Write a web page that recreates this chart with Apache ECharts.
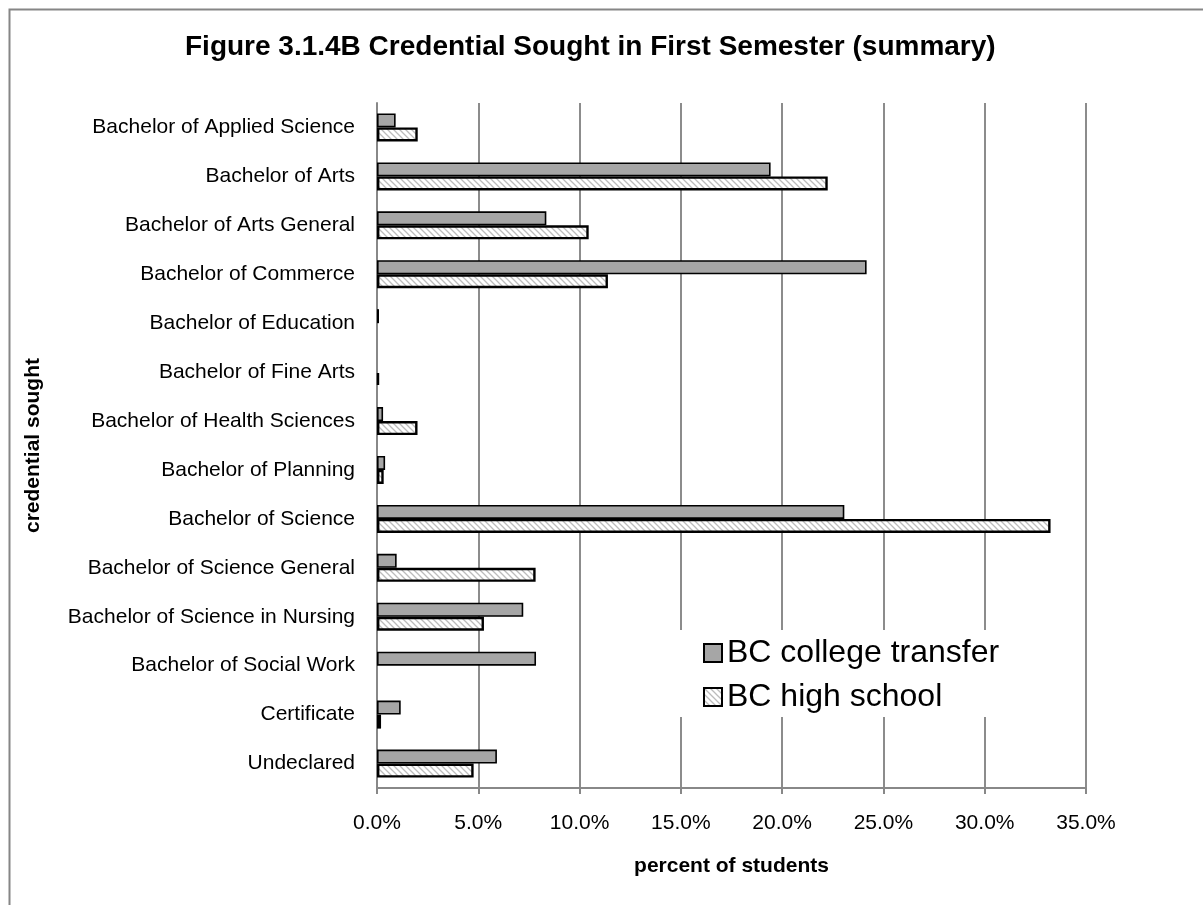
<!DOCTYPE html>
<html>
<head>
<meta charset="utf-8">
<script src="https://cdn.jsdelivr.net/npm/echarts@6/dist/echarts.min.js"></script>
<style>
html,body{margin:0;padding:0;background:#fff;}
#chart{width:1203px;height:905px;}
</style>
</head>
<body>
<div id="chart"></div>
<script>
const categories = [
  'Bachelor of Applied Science',
  'Bachelor of Arts',
  'Bachelor of Arts General',
  'Bachelor of Commerce',
  'Bachelor of Education',
  'Bachelor of Fine Arts',
  'Bachelor of Health Sciences',
  'Bachelor of Planning',
  'Bachelor of Science',
  'Bachelor of Science General',
  'Bachelor of Science in Nursing',
  'Bachelor of Social Work',
  'Certificate',
  'Undeclared'
];
const collegeTransfer = [0.92, 19.43, 8.36, 24.17, 0.1, null, 0.3, 0.4, 23.07, 0.97, 7.22, 7.85, 1.17, 5.92];
const highSchool = [2.01, 22.25, 10.45, 11.40, null, 0.1, 2.0, 0.33, 33.25, 7.83, 5.28, null, 0.2, 4.77];
const xTicks = [0, 5, 10, 15, 20, 25, 30, 35];
const seriesNames = ['BC college transfer', 'BC high school'];

function hatch() {
  const n = 6;
  const c = document.createElement('canvas');
  c.width = n; c.height = n;
  const g = c.getContext('2d');
  g.fillStyle = '#ffffff';
  g.fillRect(0, 0, n, n);
  g.strokeStyle = '#bcbcbc';
  g.lineWidth = 1.3;
  g.beginPath();
  g.moveTo(-2, -2); g.lineTo(n + 2, n + 2);
  g.moveTo(-2, n - 2); g.lineTo(2, n + 2);
  g.moveTo(n - 2, -2); g.lineTo(n + 2, 2);
  g.stroke();
  return c;
}

const FONT = "'Liberation Sans', Arial, sans-serif";
const chart = echarts.init(document.getElementById('chart'), null, {renderer: 'canvas'});
chart.setOption({
  backgroundColor: '#ffffff',
  animation: false,
  textStyle: {fontFamily: FONT},
  graphic: [{
    type: 'rect', left: 7, top: 7, z: -1,
    shape: {x: 0, y: 0, width: 1300, height: 1000},
    style: {fill: 'none', stroke: '#868686', lineWidth: 2}
  }],
  title: {
    text: 'Figure 3.1.4B Credential Sought in First Semester (summary)',
    left: 185, top: 33, padding: 0,
    textStyle: {fontFamily: FONT, fontSize: 28, fontWeight: 'bold', color: '#000'}
  },
  legend: {
    orient: 'vertical',
    left: 679, top: 630,
    padding: [7, 20, 4, 24],
    backgroundColor: '#ffffff',
    icon: 'rect',
    itemWidth: 18, itemHeight: 18, itemGap: 12,
    textStyle: {fontFamily: FONT, fontSize: 32, color: '#000'},
    data: seriesNames,
    z: 10
  },
  grid: {left: 377, right: 117, top: 103, bottom: 117, containLabel: false},
  xAxis: {
    type: 'value', min: xTicks[0], max: xTicks[xTicks.length - 1], interval: 5,
    name: 'percent of students', nameLocation: 'middle', nameGap: 68,
    nameTextStyle: {fontFamily: FONT, fontSize: 21, fontWeight: 'bold', color: '#000'},
    axisLine: {show: true, lineStyle: {color: '#888888', width: 2}},
    axisTick: {show: true, length: 6, lineStyle: {color: '#888888', width: 2}},
    axisLabel: {fontFamily: FONT, fontSize: 21, color: '#000', margin: 25,
      formatter: v => v.toFixed(1) + '%'},
    splitLine: {show: true, lineStyle: {color: '#8c8c8c', width: 2}}
  },
  yAxis: {
    type: 'category', data: categories, inverse: true,
    name: 'credential sought', nameLocation: 'middle', nameGap: 333, nameRotate: 90,
    nameTextStyle: {fontFamily: FONT, fontSize: 21, fontWeight: 'bold', color: '#000'},
    axisLine: {show: true, lineStyle: {color: '#888888', width: 2}},
    axisTick: {show: false},
    axisLabel: {fontFamily: FONT, fontSize: 21, color: '#000', margin: 22, interval: 0},
    splitLine: {show: false}
  },
  series: [
    {
      name: seriesNames[0], type: 'bar', data: collegeTransfer,
      barWidth: 14, barGap: '0%',
      itemStyle: {color: '#a6a6a6', borderColor: '#000', borderWidth: 1.6}
    },
    {
      name: seriesNames[1], type: 'bar', data: highSchool,
      barWidth: 14, barGap: '0%',
      itemStyle: {color: {image: hatch(), repeat: 'repeat'}, borderColor: '#000', borderWidth: 2.4}
    }
  ]
});
</script>
</body>
</html>
